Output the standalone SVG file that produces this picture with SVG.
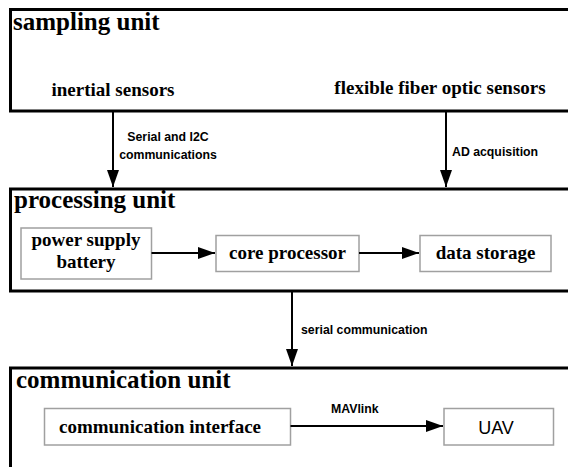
<svg xmlns="http://www.w3.org/2000/svg" width="568" height="467" viewBox="0 0 568 467">
<style>
.unit{fill:#fff;stroke:#000;stroke-width:3}
.box{fill:#fff;stroke:#a0a0a0;stroke-width:1.5}
.title{font-family:"Liberation Serif",serif;font-weight:bold;font-size:25px;fill:#000}
.txt{font-family:"Liberation Serif",serif;font-weight:bold;font-size:19px;fill:#000}
.lbl{font-family:"Liberation Sans",sans-serif;font-weight:bold;font-size:12.3px;fill:#000}
.uav{font-family:"Liberation Sans",sans-serif;font-size:18px;fill:#000}
.con{stroke:#000;stroke-width:2;fill:none;marker-end:url(#ah)}
</style>
<defs>
<marker id="ah" markerUnits="userSpaceOnUse" markerWidth="18" markerHeight="12" refX="17" refY="6" orient="auto">
<path d="M0,0 L17,6 L0,12 z" fill="#000"/>
</marker>
</defs>
<rect width="568" height="467" fill="#fff"/>
<g id="sampling-unit">
<rect class="unit" x="10.5" y="9.5" width="570" height="101.5"/>
<text class="title" x="13" y="30">sampling unit</text>
</g>
<g id="inertial-sensors"><text class="txt" x="113" y="96" text-anchor="middle">inertial sensors</text></g>
<g id="fiber-sensors"><text class="txt" x="440" y="94" text-anchor="middle">flexible fiber optic sensors</text></g>
<g id="processing-unit">
<rect class="unit" x="10.5" y="189" width="570" height="102"/>
<text class="title" x="14" y="208">processing unit</text>
</g>
<g id="power-supply">
<rect class="box" x="21" y="228" width="130.5" height="51"/>
<text class="txt" x="86" y="246" text-anchor="middle">power supply</text>
<text class="txt" x="86" y="268" text-anchor="middle">battery</text>
</g>
<g id="core-processor">
<rect class="box" x="216" y="235.5" width="143" height="36"/>
<text class="txt" x="287.5" y="259" text-anchor="middle">core processor</text>
</g>
<g id="data-storage">
<rect class="box" x="420" y="235.5" width="131" height="36"/>
<text class="txt" x="485.5" y="259" text-anchor="middle">data storage</text>
</g>
<g id="communication-unit">
<rect class="unit" x="10.5" y="368" width="570" height="110"/>
<text class="title" x="16" y="388">communication unit</text>
</g>
<g id="comm-interface">
<rect class="box" x="44.5" y="408.5" width="246" height="36.5"/>
<text class="txt" x="160" y="433" text-anchor="middle">communication interface</text>
</g>
<g id="uav">
<rect class="box" x="444" y="408.5" width="109.5" height="36.5"/>
<text class="uav" x="496" y="434" text-anchor="middle">UAV</text>
</g>
<g id="connectors">
<line class="con" x1="113" y1="112" x2="113" y2="187"/>
<line class="con" x1="446" y1="112" x2="446" y2="187"/>
<line class="con" x1="292" y1="292" x2="292" y2="366"/>
<line class="con" x1="151.5" y1="253" x2="215" y2="253"/>
<line class="con" x1="359" y1="253" x2="419" y2="253"/>
<line class="con" x1="290.5" y1="426" x2="443" y2="426"/>
<text class="lbl" x="168" y="141" text-anchor="middle">Serial and I2C</text>
<text class="lbl" x="168" y="159" text-anchor="middle">communications</text>
<text class="lbl" x="452" y="156">AD acquisition</text>
<text class="lbl" x="301" y="334">serial communication</text>
<text class="lbl" x="331" y="413">MAVlink</text>
</g>
</svg>
